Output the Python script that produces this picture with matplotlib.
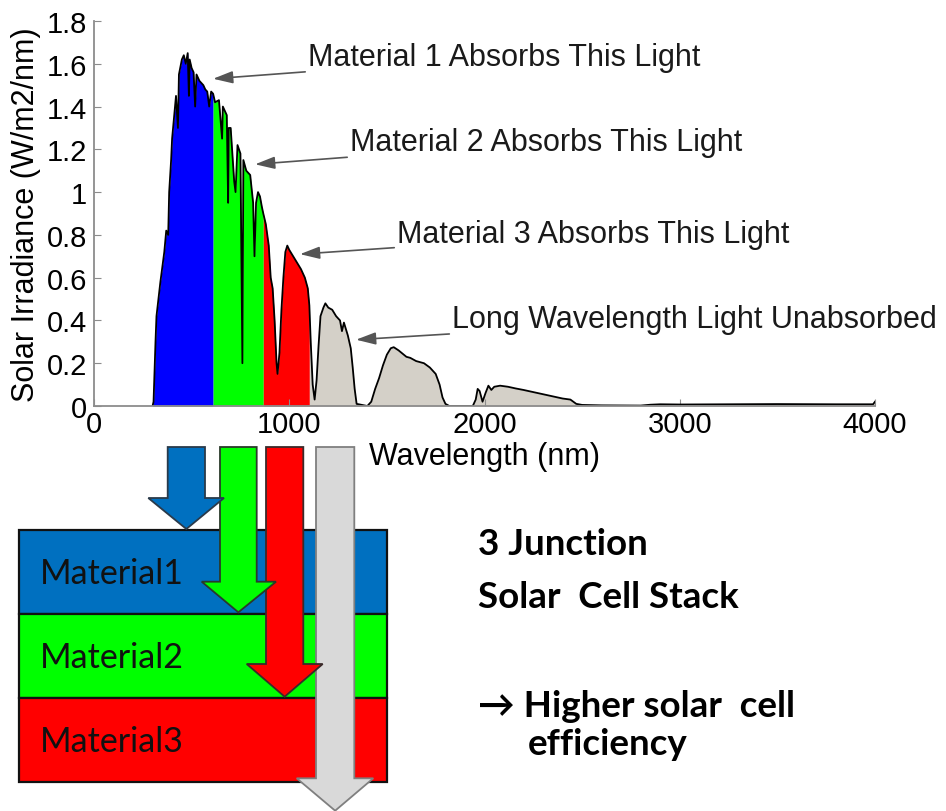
import numpy as np
import matplotlib
matplotlib.use('Agg')
import matplotlib.pyplot as plt
from matplotlib.patches import Polygon, Rectangle

# ---------------- data ----------------
wavelength_nm = [300, 305, 315, 320, 330, 340, 350, 360, 370, 380, 385, 395, 400, 410, 420,
                 430, 435, 450, 460, 470, 480, 486, 490, 500, 510, 518, 525, 540, 560, 570,
                 580, 590, 600, 610, 620, 640, 656, 660, 680, 687, 690, 700, 718, 725, 735,
                 750, 760, 765, 780, 800, 815, 822, 830, 840, 850, 860, 867, 880, 895, 905,
                 915, 925, 935, 940, 950, 960, 970, 980, 990, 1000, 1020, 1040, 1060, 1080,
                 1095, 1103, 1110, 1120, 1130, 1140, 1150, 1160, 1175, 1185, 1200, 1220, 1240,
                 1260, 1270, 1280, 1300, 1315, 1325, 1335, 1345, 1400, 1420, 1440, 1460, 1480,
                 1500, 1520, 1535, 1560, 1580, 1600, 1620, 1650, 1690, 1720, 1750, 1770, 1785,
                 1800, 1820, 1940, 1955, 1965, 1975, 1990, 2005, 2020, 2035, 2050, 2080, 2120,
                 2160, 2200, 2250, 2300, 2350, 2400, 2440, 2470, 2500, 2600, 2800, 2850, 2900,
                 3000, 3200, 3500, 3800, 3990, 4000]
irradiance = [0.0, 0.02, 0.30, 0.42, 0.50, 0.58, 0.65, 0.72, 0.82, 0.80, 1.00, 1.15, 1.25, 1.35, 1.45,
              1.30, 1.55, 1.62, 1.64, 1.60, 1.65, 1.45, 1.62, 1.58, 1.56, 1.40, 1.55, 1.52, 1.50, 1.48,
              1.47, 1.40, 1.47, 1.46, 1.42, 1.43, 1.25, 1.40, 1.36, 0.95, 1.30, 1.30, 1.05, 1.00, 1.22,
              1.18, 0.20, 1.15, 1.10, 1.08, 0.95, 0.70, 0.95, 1.00, 0.98, 0.93, 0.90, 0.85, 0.75, 0.60,
              0.55, 0.40, 0.20, 0.15, 0.25, 0.45, 0.60, 0.72, 0.75, 0.73, 0.70, 0.67, 0.64, 0.60,
              0.55, 0.47, 0.30, 0.10, 0.03, 0.12, 0.28, 0.42, 0.46, 0.48, 0.46, 0.45, 0.42,
              0.40, 0.35, 0.39, 0.33, 0.27, 0.18, 0.08, 0.01, 0.0, 0.02, 0.08, 0.13, 0.19,
              0.24, 0.27, 0.275, 0.26, 0.245, 0.23, 0.225, 0.21, 0.20, 0.18, 0.15, 0.10, 0.04,
              0.01, 0.0, 0.0, 0.03, 0.08, 0.07, 0.02, 0.06, 0.095, 0.075, 0.09, 0.095, 0.09,
              0.082, 0.075, 0.065, 0.055, 0.045, 0.035, 0.03, 0.01, 0.005, 0.003, 0.002, 0.006, 0.008,
              0.007, 0.008, 0.009, 0.008, 0.008, 0.02]
band_edges_nm = [300, 610, 867, 1103, 4000]
band_colors = ['#0000FF', '#00FF00', '#FF0000', '#D4D0C8']
x_ticks = [0, 1000, 2000, 3000, 4000]
x_tick_labels = ['0', '1000', '2000', '3000', '4000']
y_ticks = [0, 0.2, 0.4, 0.6, 0.8, 1.0, 1.2, 1.4, 1.6, 1.8]
y_tick_labels = ['0', '0.2', '0.4', '0.6', '0.8', '1', '1.2', '1.4', '1.6', '1.8']
annot_texts = ['Material 1 Absorbs This Light', 'Material 2 Absorbs This Light',
               'Material 3 Absorbs This Light', 'Long Wavelength Light Unabsorbed']
annot_tips = [(610, 1.53), (825, 1.13), (1055, 0.71), (1342, 0.31)]
annot_text_pos = [(1096, 1.632), (1311, 1.234), (1552, 0.804), (1834, 0.407)]
layer_names = ['Material1', 'Material2', 'Material3']
layer_colors = ['#0070C0', '#00FF00', '#FF0000']
arrow_colors = ['#0070C0', '#00FF00', '#FF0000', '#D9D9D9']

W, H = 946, 812
fig = plt.figure(figsize=(W / 100, H / 100), dpi=100)
fig.patch.set_facecolor('white')

ax = fig.add_axes([94 / W, 1 - 407 / H, (875 - 94) / W, (407 - 22) / H])
wl = np.array(wavelength_nm, dtype=float)
ir = np.array(irradiance, dtype=float)
for lo, hi, col in zip(band_edges_nm[:-1], band_edges_nm[1:], band_colors):
    m = (wl > lo) & (wl < hi)
    xs = np.concatenate([[lo], wl[m], [hi]])
    ys = np.interp(xs, wl, ir)
    ax.fill_between(xs, 0, ys, color=col, lw=0, zorder=1)
ax.plot(wl, ir, color='black', lw=1.3, zorder=2)

ax.set_xlim(0, 4000)
ax.set_ylim(0, 1.8)
ax.set_xticks(x_ticks)
ax.set_xticklabels(x_tick_labels)
ax.set_yticks(y_ticks)
ax.set_yticklabels(y_tick_labels)
for s in ['top', 'right']:
    ax.spines[s].set_visible(False)
for s in ['left', 'bottom']:
    ax.spines[s].set_color('#8c8c8c')
    ax.spines[s].set_linewidth(1.3)
ax.tick_params(direction='in', length=5, color='#8c8c8c', labelsize=21,
               labelcolor='black', pad=3)
ax.tick_params(axis='y', pad=5)
for lab in ax.get_xticklabels() + ax.get_yticklabels():
    lab.set_fontfamily('Liberation Sans')
ax.set_xlabel('Wavelength (nm)', fontsize=22, family='Liberation Sans', labelpad=2)
ax.set_ylabel('Solar Irradiance (W/m2/nm)', fontsize=22, family='Liberation Sans', labelpad=4)
ax.patch.set_alpha(0)

for txt, tip, tpos in zip(annot_texts, annot_tips, annot_text_pos):
    ax.annotate(txt, xy=tip, xytext=tpos, ha='left', va='center', fontsize=22,
                family='Liberation Sans', color='#1a1a1a', annotation_clip=False,
                arrowprops=dict(arrowstyle='-|>,head_length=0.8,head_width=0.25',
                                mutation_scale=15, color='#555555', lw=1.2,
                                shrinkA=0, shrinkB=0))

# ---------------- diagram (pixel coordinates) ----------------
ov = fig.add_axes([0, 0, 1, 1])
ov.set_xlim(0, W)
ov.set_ylim(H, 0)
ov.axis('off')
ov.patch.set_alpha(0)

layer_y = [(531, 615), (615, 699), (699, 783)]
for (y0, y1), col, name in zip(layer_y, layer_colors, layer_names):
    ov.add_patch(Rectangle((19, y0), 368, y1 - y0, facecolor=col, edgecolor='#111111',
                           lw=1.6, zorder=1))
    ov.text(40, (y0 + y1) / 2 + 1, name, ha='left', va='center', fontsize=24.5,
            family='Lato', color='#111111', zorder=2)

def block_arrow(xl, xr, ytop, ybase, hl, hr, ytip, fc, ec, z):
    xc = (xl + xr) / 2
    pts = [(xl, ytop), (xr, ytop), (xr, ybase), (hr, ybase), (xc, ytip), (hl, ybase), (xl, ybase)]
    ov.add_patch(Polygon(pts, closed=True, facecolor=fc, edgecolor=ec, lw=1.3, zorder=z))

block_arrow(167.7, 205, 448, 499, 148.3, 224, 530, arrow_colors[0], '#2a3a4a', 6)
block_arrow(220, 256.7, 448, 582.7, 201.7, 276, 613.3, arrow_colors[1], '#2a3a2a', 5)
block_arrow(266, 303.3, 448, 665, 246.7, 322.7, 697.7, arrow_colors[2], '#3a2a2a', 4)
block_arrow(316, 354.3, 448, 779.3, 296.7, 373.3, 811.7, arrow_colors[3], '#7f7f7f', 3)

rt = dict(fontsize=26.5, fontweight='bold', color='black', ha='left', va='baseline')
ov.text(478, 555, '3 Junction', family='Lato', **rt)
ov.text(478, 608, 'Solar  Cell Stack', family='Lato', **rt)
ov.text(478, 717, '\u2192 Higher solar  cell', family=['Lato', 'DejaVu Sans'], **rt)
ov.text(528, 755, 'efficiency', family='Lato', **rt)

fig.savefig('out.png', dpi=100, facecolor='white')
